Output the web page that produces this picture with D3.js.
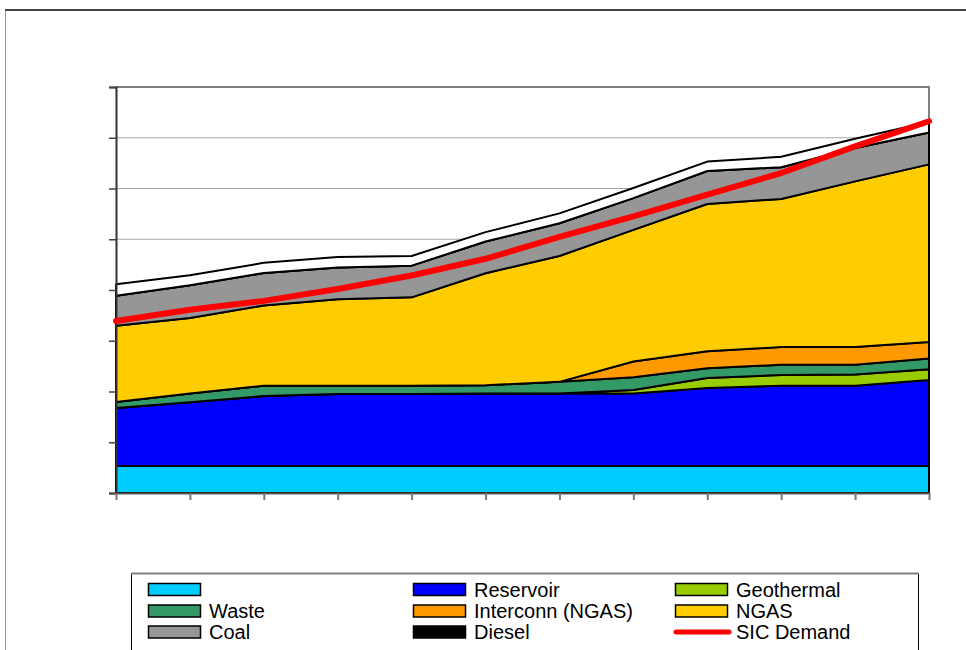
<!DOCTYPE html>
<html>
<head>
<meta charset="utf-8">
<script src="https://cdn.jsdelivr.net/npm/d3@7"></script>
<style>
  html, body { margin: 0; padding: 0; background: #fff; }
  svg { display: block; }
  text { font-family: "Liberation Sans", Arial, sans-serif; }
</style>
</head>
<body>
<svg id="chart" width="966" height="650"></svg>
<script>
// Generation by source (GWh, stacked) and system demand
const years = ["2008","2009","2010","2011","2012","2013","2014","2015","2016","2017","2018","2019"];
const runOfRiver  = [530, 530, 530, 530, 530, 530, 530, 530, 530, 530, 530, 530];
const reservoir   = [1145, 1260, 1380, 1420, 1420, 1430, 1430, 1430, 1540, 1585, 1585, 1695];
const geothermal  = [0, 0, 0, 0, 0, 0, 0, 70, 195, 210, 220, 215];
const waste       = [120, 170, 205, 165, 165, 165, 230, 250, 195, 200, 190, 210];
const interconn   = [0, 0, 0, 0, 0, 0, 0, 310, 335, 350, 350, 325];
const ngas        = [1500, 1490, 1580, 1705, 1740, 2205, 2480, 2595, 2900, 2920, 3265, 3500];
const coal        = [590, 645, 640, 625, 625, 625, 645, 625, 650, 625, 660, 630];
const diesel      = [0, 0, 0, 0, 0, 0, 0, 0, 0, 0, 0, 0];
const backup      = [230, 195, 200, 205, 190, 185, 195, 200, 185, 205, 180, 205];
const sicDemand   = [3390, 3610, 3785, 4020, 4285, 4615, 5045, 5450, 5880, 6305, 6830, 7325];
const yTicks      = [0, 1000, 2000, 3000, 4000, 5000, 6000, 7000, 8000];

const seriesDefs = [
  { key: "run",        label: "",                  color: "#00CCFF", values: runOfRiver },
  { key: "reservoir",  label: "Reservoir",         color: "#0000FF", values: reservoir },
  { key: "geothermal", label: "Geothermal",        color: "#99CC00", values: geothermal },
  { key: "waste",      label: "Waste",             color: "#339966", values: waste },
  { key: "interconn",  label: "Interconn (NGAS)",  color: "#FF9900", values: interconn },
  { key: "ngas",       label: "NGAS",              color: "#FFCC00", values: ngas },
  { key: "coal",       label: "Coal",              color: "#969696", values: coal },
  { key: "diesel",     label: "Diesel",            color: "#000000", values: diesel },
  { key: "backup",     label: null,                color: "#FFFFFF", values: backup }
];

const table = years.map((yr, i) => {
  const row = { year: yr };
  seriesDefs.forEach(s => row[s.key] = s.values[i]);
  return row;
});

const svg = d3.select("#chart");

// outer chart frame
svg.append("rect").attr("x", 5.5).attr("y", 10).attr("width", 1000).attr("height", 700)
  .attr("fill", "#fff").attr("stroke", "#999").attr("stroke-width", 1);
svg.append("line").attr("x1", 5).attr("x2", 966).attr("y1", 10).attr("y2", 10)
  .attr("stroke", "#444").attr("stroke-width", 2);

const plot = { left: 116, right: 929, top: 87, bottom: 493 };

const x = d3.scalePoint().domain(years).range([plot.left, plot.right]).padding(0);
const y = d3.scaleLinear().domain([0, 8000]).range([plot.bottom, plot.top]);

// horizontal gridlines
svg.append("g").selectAll("line").data(yTicks.slice(1, -1)).join("line")
  .attr("x1", plot.left).attr("x2", plot.right)
  .attr("y1", d => y(d)).attr("y2", d => y(d))
  .attr("stroke", "#a6a6a6").attr("stroke-width", 1.2);

// plot frame (top and right)
svg.append("path")
  .attr("d", `M${plot.left},${plot.top}H${plot.right}V${plot.bottom}`)
  .attr("fill", "none").attr("stroke", "#808080").attr("stroke-width", 2);

// stacked areas
const stack = d3.stack().keys(seriesDefs.map(s => s.key));
const layers = stack(table);
const area = d3.area()
  .x(d => x(d.data.year))
  .y0(d => y(d[0]))
  .y1(d => y(d[1]));

svg.append("g").selectAll("path").data(layers).join("path")
  .attr("d", area)
  .attr("fill", (d, i) => seriesDefs[i].color)
  .attr("stroke", "#000")
  .attr("stroke-width", 2)
  .attr("stroke-linejoin", "round");

// axes
const yAxis = d3.axisLeft(y).tickValues(yTicks).tickSize(7).tickFormat("");
svg.append("g").attr("transform", `translate(${plot.left},0)`).call(yAxis)
  .call(g => g.select(".domain").attr("stroke", "#333").attr("stroke-width", 2))
  .call(g => g.selectAll(".tick line").attr("stroke", "#444").attr("stroke-width", 1.5));

const xAxis = d3.axisBottom(x).tickSize(7).tickFormat("").tickSizeOuter(0);
svg.append("g").attr("transform", `translate(0,${plot.bottom})`).call(xAxis)
  .call(g => g.select(".domain").attr("stroke", "#555").attr("stroke-width", 2))
  .call(g => g.selectAll(".tick line").attr("stroke", "#777").attr("stroke-width", 2));

// demand line
const line = d3.line().x((d, i) => x(years[i])).y(d => y(d));
svg.append("path").datum(sicDemand)
  .attr("d", line)
  .attr("fill", "none").attr("stroke", "#FF0000").attr("stroke-width", 6)
  .attr("stroke-linecap", "round").attr("stroke-linejoin", "round");

// legend
const legend = svg.append("g");
legend.append("rect").attr("x", 131.5).attr("y", 573.5).attr("width", 787).attr("height", 120)
  .attr("fill", "#fff").attr("stroke", "#000").attr("stroke-width", 1);
legend.append("line").attr("x1", 131).attr("x2", 919).attr("y1", 573.5).attr("y2", 573.5)
  .attr("stroke", "#808080").attr("stroke-width", 2);

const legendItems = [
  { def: seriesDefs[0] }, { def: seriesDefs[1] }, { def: seriesDefs[2] },
  { def: seriesDefs[3] }, { def: seriesDefs[4] }, { def: seriesDefs[5] },
  { def: seriesDefs[6] }, { def: seriesDefs[7] }, { line: true, label: "SIC Demand", color: "#FF0000" }
];
const colX = [148, 413, 675];
const rowY = [589.5, 611, 632];

legendItems.forEach((item, i) => {
  const cx = colX[i % 3];
  const cy = rowY[Math.floor(i / 3)];
  if (item.line) {
    legend.append("line").attr("x1", cx + 1).attr("x2", cx + 54).attr("y1", cy).attr("y2", cy)
      .attr("stroke", item.color).attr("stroke-width", 5).attr("stroke-linecap", "round");
  } else {
    legend.append("rect").attr("x", cx + 0.5).attr("y", cy - 6).attr("width", 52).attr("height", 12)
      .attr("fill", item.def.color).attr("stroke", "#000").attr("stroke-width", 1.5);
  }
  const label = item.line ? item.label : item.def.label;
  legend.append("text").attr("x", cx + 61).attr("y", cy + 7)
    .attr("font-size", 20).attr("fill", "#000").text(label);
});
</script>
</body>
</html>
